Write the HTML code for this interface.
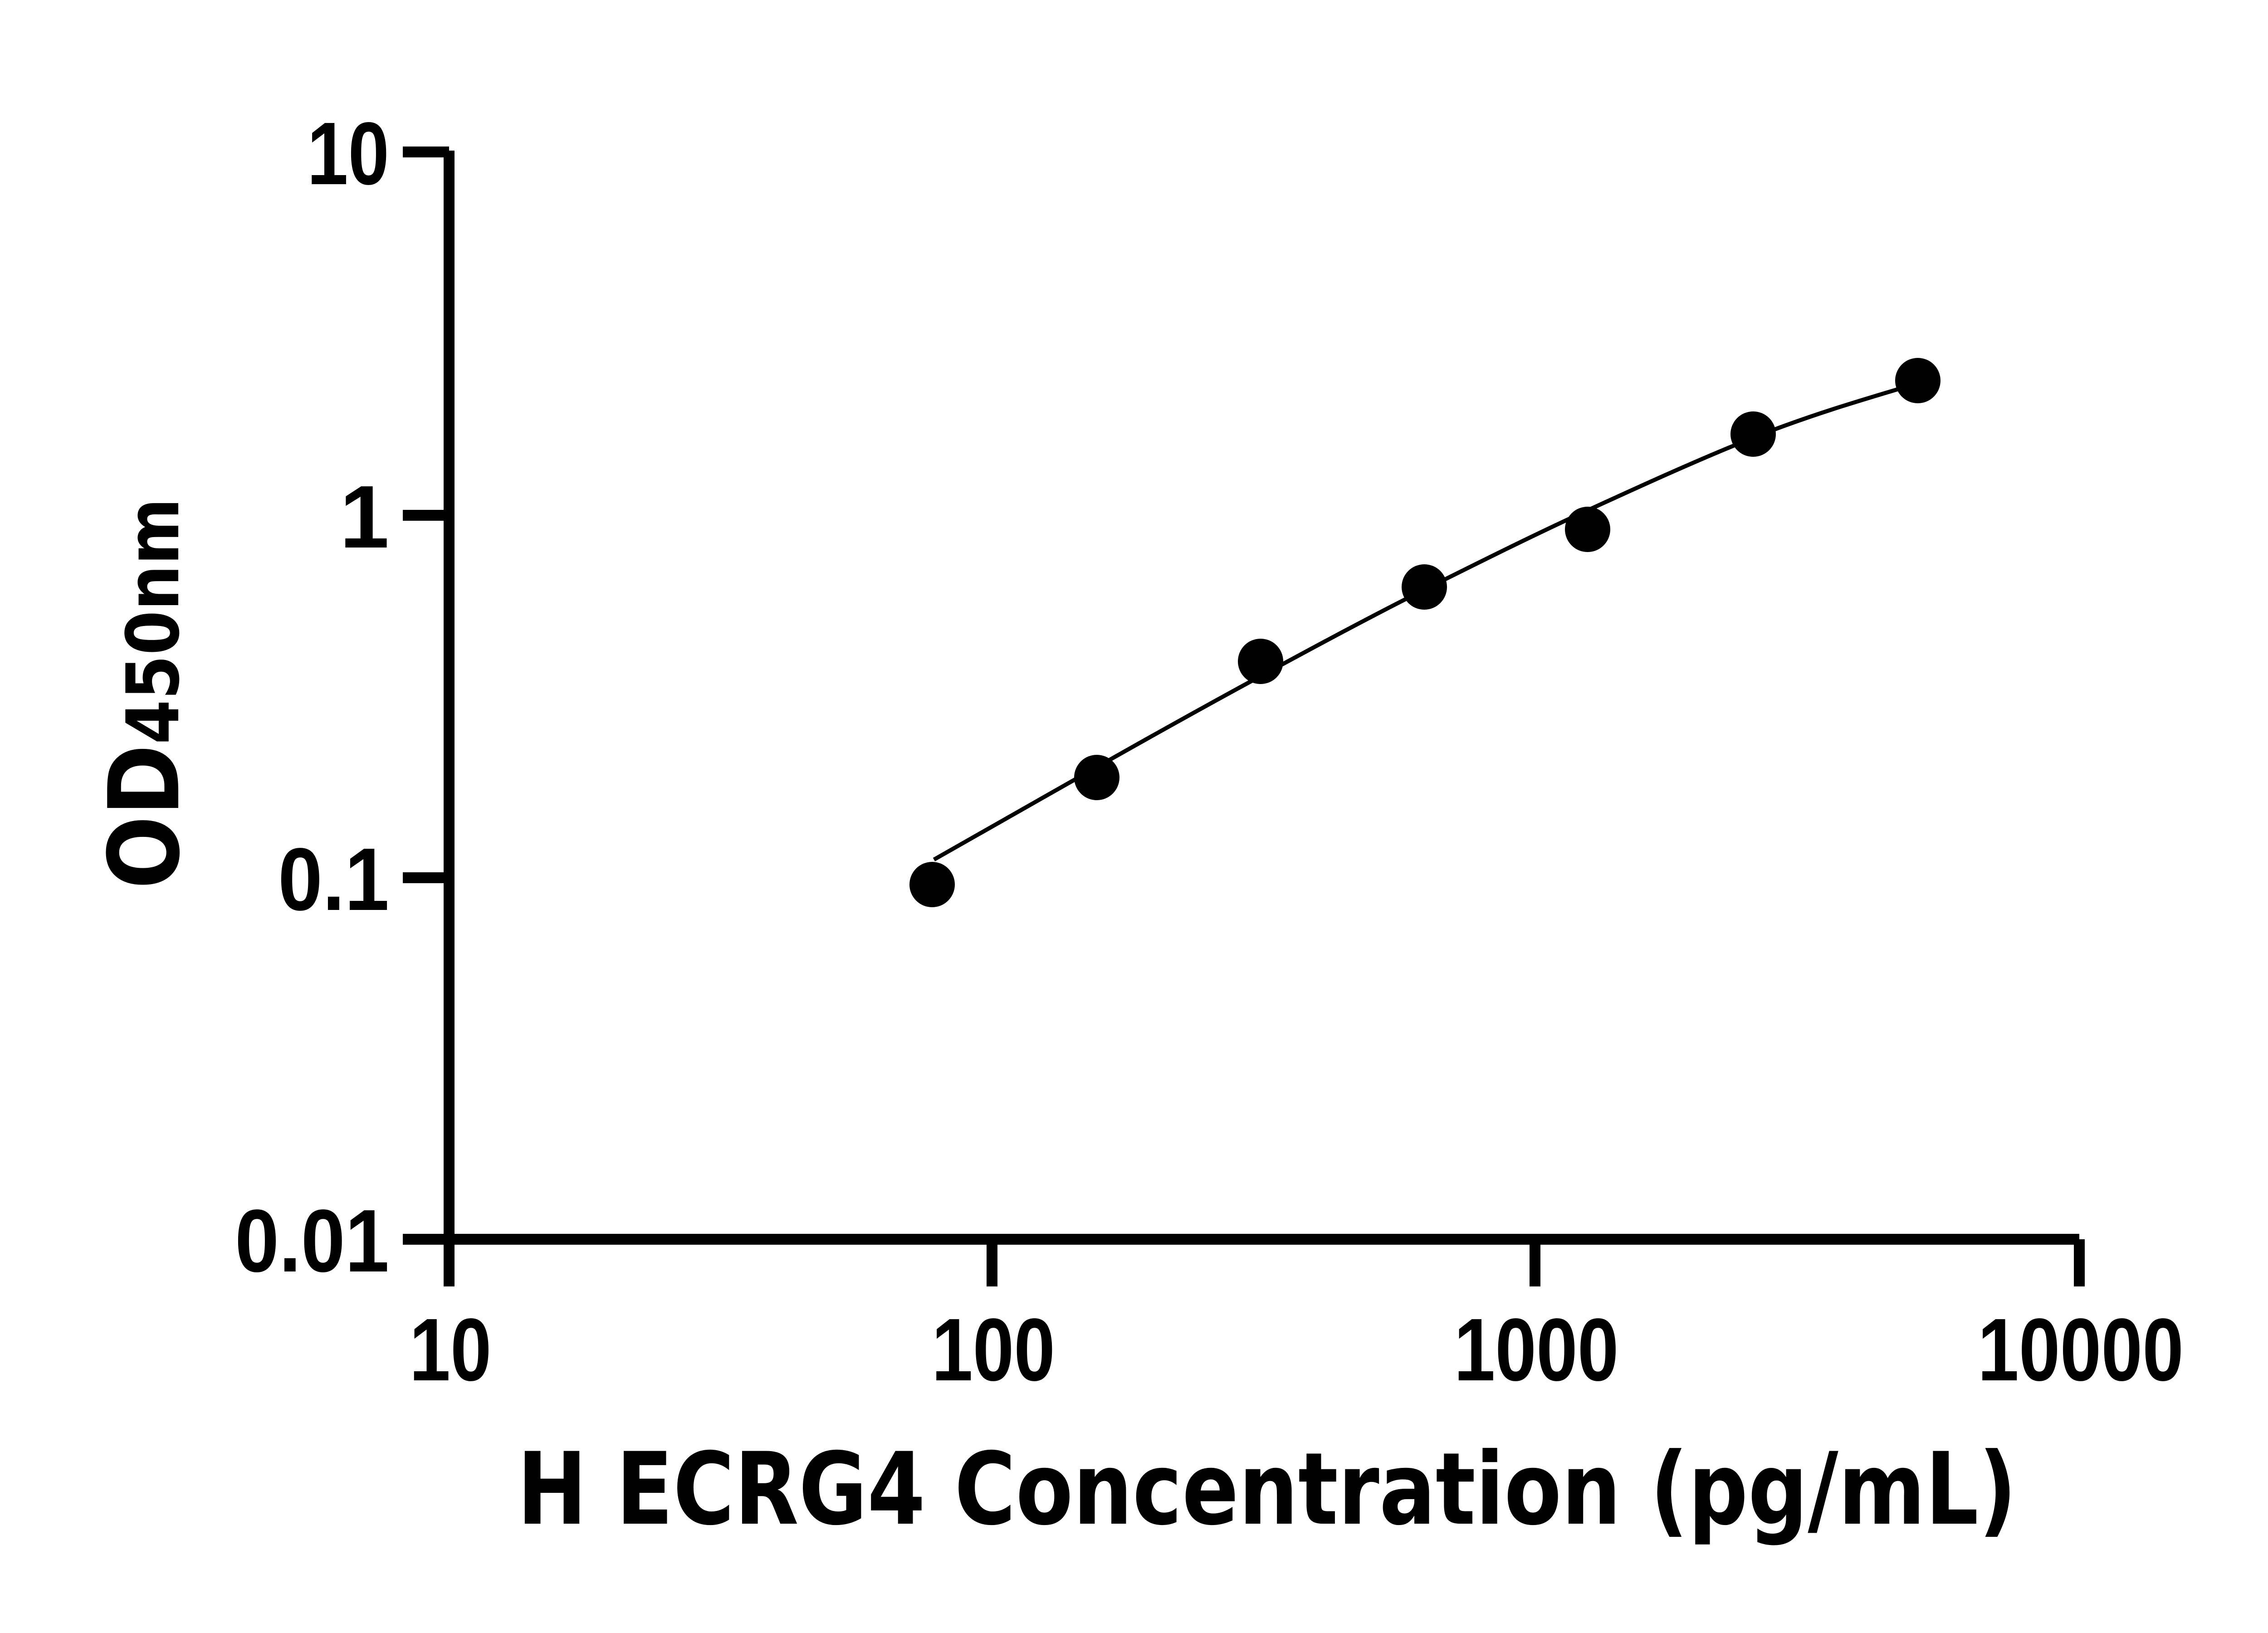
<!DOCTYPE html>
<html><head><style>html,body{margin:0;padding:0;background:#fff}svg{display:block}</style></head>
<body>
<svg width="5142" height="3600" viewBox="0 0 5142 3600" xmlns="http://www.w3.org/2000/svg">
<rect width="5142" height="3600" fill="#fff"/>
<g stroke="#000" stroke-width="24" fill="none">
<path d="M990 332 V2732 H4584"/>
<path d="M888 335 H990 M888 1136 H990 M888 1935 H990 M888 2732 H990"/>
<path d="M990 2732 V2836 M2187 2732 V2836 M3384 2732 V2836 M4584 2732 V2836"/>
</g>
<g font-family="Liberation Sans, sans-serif" font-weight="bold" font-size="196" text-anchor="end" fill="#000">
<text x="858" y="406" textLength="181" lengthAdjust="spacingAndGlyphs">10</text>
<text x="858" y="1207">1</text>
<text x="858" y="2006" textLength="245" lengthAdjust="spacingAndGlyphs">0.1</text>
<text x="858" y="2803" textLength="340" lengthAdjust="spacingAndGlyphs">0.01</text>
</g>
<g font-family="Liberation Sans, sans-serif" font-weight="bold" font-size="196" text-anchor="middle" fill="#000">
<text x="993" y="3043" textLength="181" lengthAdjust="spacingAndGlyphs">10</text>
<text x="2190" y="3043" textLength="272" lengthAdjust="spacingAndGlyphs">100</text>
<text x="3387" y="3043" textLength="363" lengthAdjust="spacingAndGlyphs">1000</text>
<text x="4587" y="3043" textLength="454" lengthAdjust="spacingAndGlyphs">10000</text>
</g>
<text x="1140" y="3359" font-family="DejaVu Sans, sans-serif" font-weight="bold" font-size="220" textLength="3306" lengthAdjust="spacingAndGlyphs" fill="#000">H ECRG4 Concentration (pg/mL)</text>
<text transform="translate(393,1960) rotate(-90)" font-family="DejaVu Sans, sans-serif" font-weight="bold" fill="#000" textLength="862" lengthAdjust="spacingAndGlyphs"><tspan font-size="215">OD</tspan><tspan font-size="160">450nm</tspan></text>
<path d="M2059 1895 C2180 1825 2300 1758 2420 1690 S2660 1555 2780 1490 S3020 1360 3140 1300 S3380 1180 3500 1125 S3740 1015 3865 965 S4110 880 4228 845" stroke="#000" stroke-width="9" fill="none"/>
<g fill="#000">
<circle cx="2055" cy="1950" r="50"/>
<circle cx="2418" cy="1714" r="50"/>
<circle cx="2779" cy="1458" r="50"/>
<circle cx="3140" cy="1294" r="50"/>
<circle cx="3500" cy="1167" r="50"/>
<circle cx="3865" cy="957" r="50"/>
<circle cx="4228" cy="839" r="50"/>
</g>
</svg>
</body></html>
